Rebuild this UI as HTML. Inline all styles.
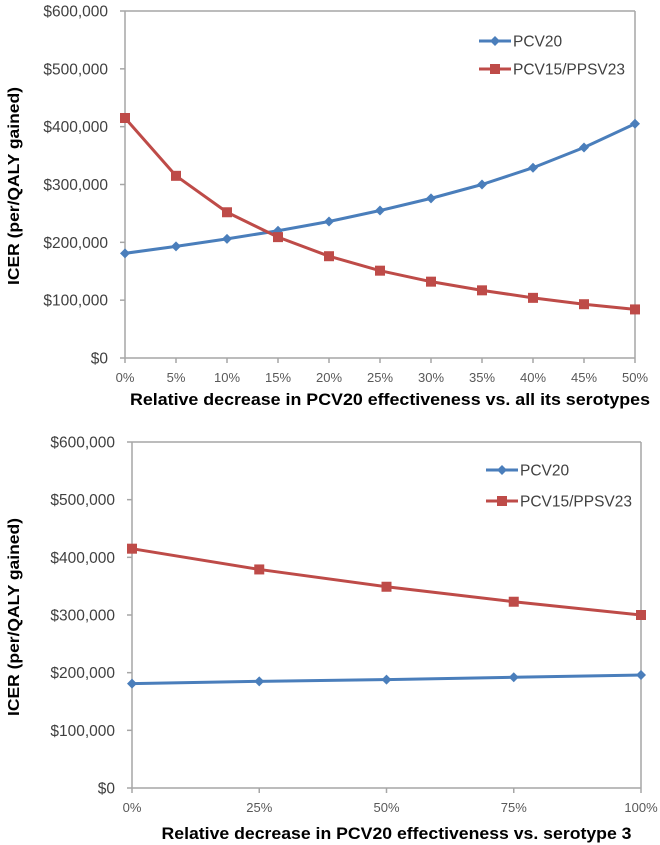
<!DOCTYPE html>
<html><head><meta charset="utf-8"><style>
html,body{margin:0;padding:0;background:#fff;}
svg{display:block;font-family:"Liberation Sans",Arial,sans-serif;}
</style></head><body>
<svg id="chart" width="660" height="845" viewBox="0 0 660 845"></svg>
<script>
const topCategories = ["0%","5%","10%","15%","20%","25%","30%","35%","40%","45%","50%"];
const topPcv20 = [181000,193000,206000,220000,236000,255000,276000,300000,329000,364000,405000];
const topPcv15 = [415000,315000,252000,209000,176000,151000,132000,117000,104000,93000,84000];
const botCategories = ["0%","25%","50%","75%","100%"];
const botPcv20 = [181000,185000,188000,192000,196000];
const botPcv15 = [415000,379000,349000,323000,300000];
const yTicks = [0,100000,200000,300000,400000,500000,600000];
const yTickLabels = ["$0","$100,000","$200,000","$300,000","$400,000","$500,000","$600,000"];
const seriesNames = ["PCV20","PCV15/PPSV23"];

const NS="http://www.w3.org/2000/svg";
const svg=document.getElementById('chart');
function mk(tag,attrs,parent){const e=document.createElementNS(NS,tag);for(const k in attrs)e.setAttribute(k,attrs[k]);(parent||svg).appendChild(e);return e;}

function drawChart(cfg){
  const g=mk('g',{});
  
  
  const n=cfg.cats.length;
  const xs=i=>cfg.x0+(cfg.x1-cfg.x0)*i/(n-1);
  const ys=v=>cfg.y0+(cfg.y1-cfg.y0)*v/600000;
  // axes
  const ya=mk('line',{x1:cfg.x0,y1:cfg.y0,x2:cfg.x0,y2:cfg.y1,stroke:'#a6a6a6','stroke-width':1.5},g);
  
  
  const xa=mk('line',{x1:cfg.x0,y1:cfg.y0,x2:cfg.x1,y2:cfg.y0,stroke:'#a6a6a6','stroke-width':1.5},g);
  
  
  const ra=mk('line',{x1:cfg.x1,y1:cfg.y0,x2:cfg.x1,y2:cfg.y1,stroke:'#a6a6a6','stroke-width':1.5},g);
  
  
  const ta=mk('line',{x1:cfg.x0,y1:cfg.y1,x2:cfg.x1,y2:cfg.y1,stroke:'#a6a6a6','stroke-width':1.5},g);
  
  
  yTicks.forEach((v,i)=>{
    const y=ys(v);
    mk('line',{x1:cfg.x0-5,y1:y,x2:cfg.x0,y2:y,stroke:'#a6a6a6','stroke-width':1.5},g);
    const t=mk('text',{x:cfg.x0-17,y:y+5.5,'text-anchor':'end','font-size':15.5,fill:'#404040'},g);
    t.textContent=yTickLabels[i];
    
    
  });
  cfg.cats.forEach((c,i)=>{
    const x=xs(i);
    mk('line',{x1:x,y1:cfg.y0,x2:x,y2:cfg.y0+5,stroke:'#a6a6a6','stroke-width':1.5},g);
    const t=mk('text',{x:x,y:cfg.y0+24,'text-anchor':'middle','font-size':13,fill:'#595959'},g);
    t.textContent=c;
    
    
  });
  // series
  const series=[{vals:cfg.s1,color:'#4a7ebb',mark:'diamond',name:seriesNames[0]},{vals:cfg.s2,color:'#be4b48',mark:'square',name:seriesNames[1]}];
  series.forEach((s,si)=>{
    const pts=s.vals.map((v,i)=>xs(i)+','+ys(v)).join(' ');
    const pl=mk('polyline',{points:pts,fill:'none',stroke:s.color,'stroke-width':3,'stroke-linejoin':'round'},g);
    
    
    s.vals.forEach((v,i)=>{
      const x=xs(i),y=ys(v);
      let m;
      if(s.mark==='diamond') m=mk('polygon',{points:`${x},${y-5} ${x+5},${y} ${x},${y+5} ${x-5},${y}`,fill:s.color},g);
      else m=mk('rect',{x:x-5,y:y-5,width:10,height:10,fill:s.color},g);
      
      
    });
    // legend
    const ly=cfg.legY[si];
    const lg=mk('g',{},g);
    
    
    mk('line',{x1:cfg.legX,y1:ly,x2:cfg.legX+32,y2:ly,stroke:s.color,'stroke-width':3},lg);
    const cx=cfg.legX+16;
    if(s.mark==='diamond') mk('polygon',{points:`${cx},${ly-5} ${cx+5},${ly} ${cx},${ly+5} ${cx-5},${ly}`,fill:s.color},lg);
    else mk('rect',{x:cx-5,y:ly-5,width:10,height:10,fill:s.color},lg);
    const lt=mk('text',{x:cfg.legX+34,y:ly+5.5,'font-size':15.5,fill:'#404040'},lg);
    lt.textContent=s.name;
  });
  const xt=mk('text',{x:(cfg.x0+cfg.x1)/2+10,y:cfg.xTitleY,'text-anchor':'middle','font-size':17,'font-weight':'bold',fill:'#000',textLength:cfg.xTitleLen,lengthAdjust:'spacingAndGlyphs'},g);
  xt.textContent=cfg.xTitle;
  
  
  const cy=cfg.yTitleY;
  const yt=mk('text',{x:0,y:0,transform:`translate(19,${cy}) rotate(-90)`,'text-anchor':'middle','font-size':16,'font-weight':'bold',fill:'#000',textLength:198,lengthAdjust:'spacingAndGlyphs'},g);
  yt.textContent='ICER (per/QALY gained)';
  
  
}

drawChart({name:'top-chart',cats:topCategories,s1:topPcv20,s2:topPcv15,x0:125,x1:635,y0:358,y1:11,
  legX:479,legY:[41,69],xTitle:'Relative decrease in PCV20 effectiveness vs. all its serotypes',xTitleY:405,xTitleLen:520,yTitleY:186});
drawChart({name:'bottom-chart',cats:botCategories,s1:botPcv20,s2:botPcv15,x0:132,x1:641,y0:788,y1:442,
  legX:486,legY:[470,501],xTitle:'Relative decrease in PCV20 effectiveness vs. serotype 3',xTitleY:839,xTitleLen:470,yTitleY:617});
</script>
</body></html>
